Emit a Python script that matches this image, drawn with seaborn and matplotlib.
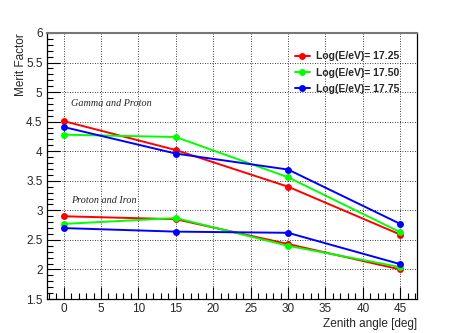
import pandas as pd
import matplotlib.pyplot as plt
import seaborn as sns
from matplotlib.ticker import MultipleLocator, FormatStrFormatter

# data
zenith = [0, 15, 30, 45]
energies = ['Log(E/eV)= 17.25', 'Log(E/eV)= 17.50', 'Log(E/eV)= 17.75']
gamma_proton = {
    energies[0]: [4.51, 4.02, 3.40, 2.59],
    energies[1]: [4.28, 4.24, 3.56, 2.63],
    energies[2]: [4.41, 3.96, 3.69, 2.77],
}
proton_iron = {
    energies[0]: [2.90, 2.85, 2.43, 2.00],
    energies[1]: [2.77, 2.87, 2.40, 2.04],
    energies[2]: [2.70, 2.64, 2.62, 2.09],
}
colors = ['#ff0000', '#00ff00', '#0000ff']

rows = []
for pair, table in [('GP', gamma_proton), ('PI', proton_iron)]:
    for e in energies:
        for z, v in zip(zenith, table[e]):
            rows.append({'pair': pair, 'energy': e, 'zenith': z, 'merit': v})
df = pd.DataFrame(rows)

sns.set_style('white')
plt.rcParams['font.family'] = ['Liberation Sans', 'DejaVu Sans']

fig = plt.figure(figsize=(4.63, 3.33), dpi=100)
ax = fig.add_axes([0.101, 0.102, 0.8, 0.799])

palette = dict(zip(energies, colors))
for i, pair in enumerate(['GP', 'PI']):
    sns.lineplot(data=df[df['pair'] == pair], x='zenith', y='merit', hue='energy',
                 palette=palette, marker='o', markersize=5, markeredgewidth=0,
                 linewidth=1.4, ax=ax, legend=(i == 0), zorder=3)

ax.set_xlim(-2.25, 47.25)
ax.set_ylim(1.5, 6)
ax.xaxis.set_major_locator(MultipleLocator(5))
ax.xaxis.set_minor_locator(MultipleLocator(1))
ax.yaxis.set_major_locator(MultipleLocator(0.5))
ax.yaxis.set_minor_locator(MultipleLocator(0.1))
ax.xaxis.set_major_formatter(FormatStrFormatter('%g'))
ax.yaxis.set_major_formatter(FormatStrFormatter('%g'))
ax.tick_params(which='both', direction='in', bottom=True, left=True,
               top=False, right=False, labelsize=8.5, pad=3, color='black')
ax.tick_params(which='major', length=9, width=0.8)
ax.tick_params(which='minor', length=4.5, width=0.8)
ax.grid(True, which='major', color='black', linestyle=(0, (1, 2)), linewidth=0.6)
for s in ax.spines.values():
    s.set_color('black')
    s.set_linewidth(0.9)
ax.spines['top'].set_color('#777777')
ax.spines['top'].set_linewidth(1.5)

ax.set_xlabel('Zenith angle [deg]', fontsize=8.5, loc='right', labelpad=2)
ax.set_ylabel('Merit Factor', fontsize=8.5, loc='top', labelpad=-1)

ax.text(1.0, 4.8, 'Gamma and Proton', fontsize=7.3, style='italic',
        family='Liberation Serif', va='center')
ax.text(1.0, 3.16, 'Proton and Iron', fontsize=7.3, style='italic',
        family='Liberation Serif', va='center')

leg = ax.legend(loc='upper left', bbox_to_anchor=(0.655, 0.95), frameon=False,
                fontsize=7.5, handlelength=1.5, handletextpad=0.6,
                labelspacing=0.6, borderpad=0)
for t in leg.get_texts():
    t.set_fontweight('bold')

fig.savefig('out.png', dpi=100)
